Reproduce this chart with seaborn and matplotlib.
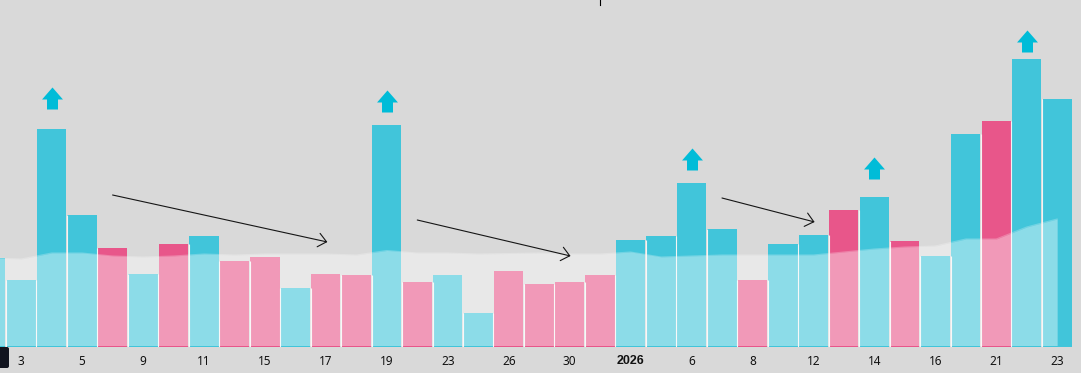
import matplotlib
matplotlib.use("Agg")
import matplotlib.pyplot as plt
from matplotlib.path import Path
from matplotlib.patches import FancyBboxPatch
import numpy as np
import pandas as pd
import seaborn as sns

# bar heights, first bar is cut by the left edge
values = [89, 67, 218, 132, 99, 73, 103, 111, 86, 90, 59, 73, 72, 222, 65, 72, 34, 76,
          63, 65, 72, 107, 111, 164, 118, 67, 103, 112, 137, 150, 106, 91, 213, 226, 288, 248]
kinds = ["up", "up", "up", "up", "down", "up", "down", "up", "down", "down", "up", "down",
         "down", "up", "down", "up", "up", "down", "down", "down", "down", "up", "up", "up",
         "up", "down", "up", "up", "down", "up", "down", "up", "up", "down", "up", "up"]
band = [89, 88, 94, 94, 91, 90, 91, 93, 92, 93, 93, 93, 92, 96.5, 94, 94, 93, 93.5,
        94, 93, 93, 95, 90, 91, 92, 92, 92, 92, 95, 98, 100, 101, 108, 108, 120, 128]
tick_pos = [1, 3, 5, 7, 9, 11, 13, 15, 17, 19, 21, 23, 25, 27, 29, 31, 33, 35]
tick_labels = ["3", "5", "9", "11", "15", "17", "19", "23", "26", "30", "2026",
               "6", "8", "12", "14", "16", "21", "23"]
signal_pos = [2, 13, 23, 29, 34]
signal_val = [249, 246, 188, 179, 306]
trend_start = [(4.0, 152), (14.0, 127), (24.0, 149)]
trend_end = [(11.05, 105), (19.03, 91), (27.04, 125)]

df = pd.DataFrame({"pos": range(len(values)), "value": values, "kind": kinds})

bg = "#d9d9d9"
fig = plt.figure(figsize=(10.81, 3.73), dpi=100, facecolor=bg)
ax = fig.add_axes([0, 26 / 373, 1, 347 / 373], facecolor=bg)

sns.barplot(data=df, x="pos", y="value", hue="kind", dodge=False, width=0.96, saturation=1,
            palette={"up": "#41c5da", "down": "#e8568a"}, legend=False, ax=ax, zorder=2)

# light seams between neighbouring bars
heights = np.array(values)
ax.vlines(df["pos"][:-1] + 0.5, 0, np.minimum(heights[:-1], heights[1:]),
          color="#f4f4f4", lw=0.8, zorder=3)

# pale band over the bars
pos = df["pos"].to_numpy()
ax.fill_between(pos, 1.5, band, color="white", alpha=0.4, lw=0, zorder=4)
sns.lineplot(x=pos, y=band, color="white", alpha=0.25, lw=0.8, ax=ax, zorder=4)

for s, e in zip(trend_start, trend_end):
    ax.annotate("", xy=e, xytext=s, zorder=6,
                arrowprops=dict(arrowstyle="->,head_length=0.45,head_width=0.38", color="#151515",
                                lw=0.8, mutation_scale=13, shrinkA=0, shrinkB=0))

up_arrow = Path([(0, 1), (0.95, -0.09), (0.5, -0.09), (0.5, -1), (-0.5, -1),
                 (-0.5, -0.09), (-0.95, -0.09), (0, 1)], closed=True)
ax.scatter(signal_pos, signal_val, marker=up_arrow, s=251, color="#00bcd8", lw=0, zorder=6)

ax.plot([20, 20], [342, 347], color="black", lw=0.8, zorder=6)

ax.set_xlim(9.3 / 30.47, (1081 + 9.3) / 30.47)
ax.set_ylim(0, 347)
ax.set_xticks(tick_pos)
labs = ax.set_xticklabels(tick_labels, family="Noto Sans")
ax.set_yticks([])
ax.set_xlabel("")
ax.set_ylabel("")
ax.tick_params(axis="x", length=0, pad=6, labelsize=8.5, labelcolor="#111111")
# Noto Sans here has no bold cut, so the year label uses Liberation
labs[tick_labels.index("2026")].set_family("Liberation Sans")
labs[tick_labels.index("2026")].set_fontweight("bold")
labs[tick_labels.index("2026")].set_fontsize(9)
for sp in ax.spines.values():
    sp.set_visible(False)

# dark chip cut off at the bottom left
fig.patches.append(FancyBboxPatch((-6, 5), 15, 21, boxstyle="round,pad=0,rounding_size=2",
                                  transform=None, fc="#11141f", ec="none"))

fig.savefig("out.png", dpi=100, facecolor=bg)
